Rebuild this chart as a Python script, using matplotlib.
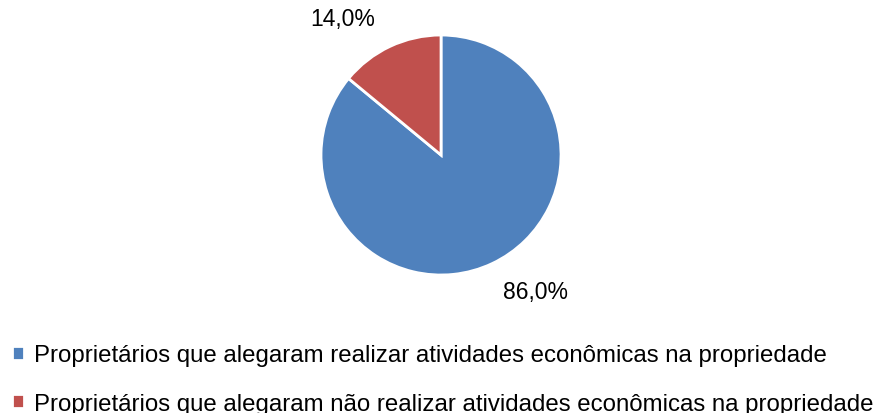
import matplotlib.pyplot as plt
import numpy as np

plt.rcParams['font.family'] = ['Liberation Sans', 'DejaVu Sans']

categorias = ['Proprietários que alegaram realizar atividades econômicas na propriedade',
              'Proprietários que alegaram não realizar atividades econômicas na propriedade']
valores = [86.0, 14.0]
cores = ['#4F81BD', '#C0504D']

fig = plt.figure(figsize=(8.88, 4.14), dpi=100)
ax = fig.add_axes([0.3615, 0.3333, 0.2703, 0.5797])

fatias, textos, rotulos = ax.pie(valores, colors=cores, startangle=90, counterclock=False,
                                 autopct=lambda p: f'{p:.1f}%'.replace('.', ','),
                                 pctdistance=1.42, radius=1,
                                 wedgeprops=dict(edgecolor='white', linewidth=2))
ax.set_xlim(-1, 1)
ax.set_ylim(-1, 1)
ax.set_aspect('auto')

# deslocar rótulos como no Excel
for r, ang, d in zip(rotulos, [-55.5, 125.8], [1.385, 1.40]):
    r.set_position((d * np.cos(np.radians(ang)), d * np.sin(np.radians(ang))))
    r.set_fontsize(16.5)

fig.legend(fatias, categorias, loc='upper left', bbox_to_anchor=(0.013, 0.166),
           frameon=False, fontsize=17.3, handlelength=0.5, handleheight=0.5,
           handletextpad=0.45, labelspacing=1.1, borderaxespad=0, borderpad=0)

fig.savefig('out.png', dpi=100)
